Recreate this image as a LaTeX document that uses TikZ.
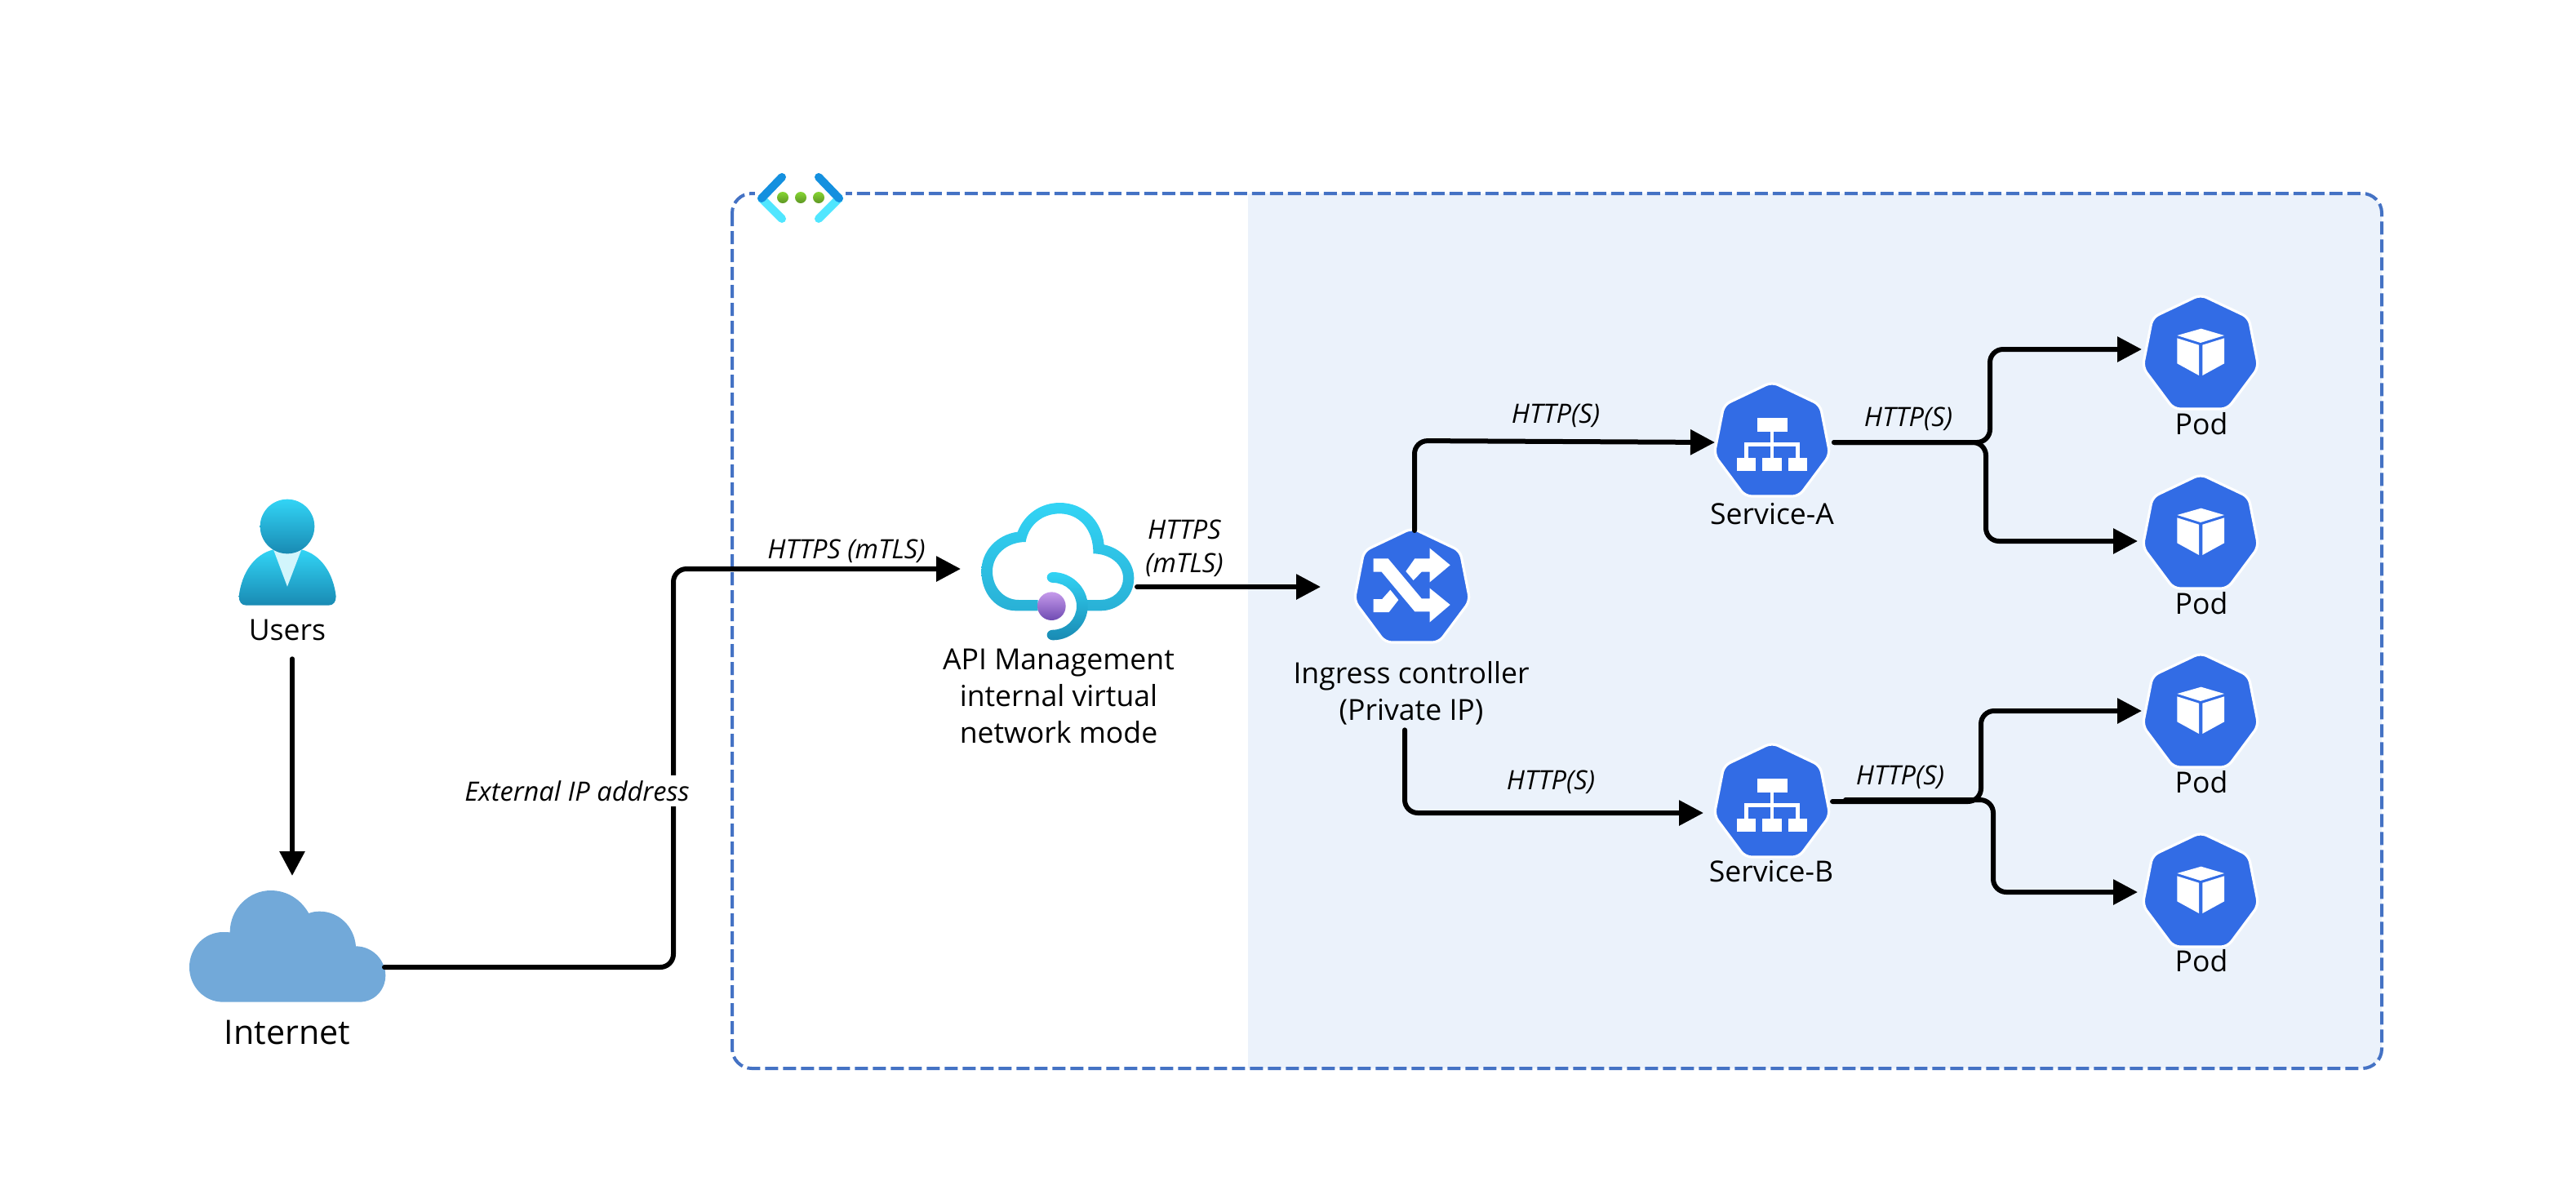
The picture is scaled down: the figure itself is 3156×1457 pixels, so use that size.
\documentclass[tikz,border=0pt]{standalone}
\usepackage{fontspec}
\setmainfont{Open Sans}
\usetikzlibrary{arrows.meta}
\definecolor{kblue}{HTML}{326CE5}
\definecolor{panel}{HTML}{EBF2FB}
\definecolor{vnetline}{HTML}{4472C4}
\definecolor{cloudblue}{HTML}{72A9D9}
\definecolor{cyantop}{HTML}{32D4F5}
\definecolor{cyanbot}{HTML}{198AB3}
\definecolor{cyanmid}{HTML}{29B1D6}
\definecolor{neck}{HTML}{D2F5FC}
\definecolor{purpletop}{HTML}{C69AEB}
\definecolor{purplebot}{HTML}{6F4BB2}
\definecolor{vnetdark}{HTML}{1490DF}
\definecolor{vnetlight}{HTML}{50E6FF}
\definecolor{dottop}{HTML}{86D633}
\definecolor{dotbot}{HTML}{5E9624}
\tikzset{
  iconbox/.style={rectangle,minimum width=68pt,minimum height=67pt,inner sep=0pt,outer sep=0pt},
  lbl/.style={font=\fontsize{17.8}{22.6}\selectfont,inner sep=0pt,align=center,text=black},
  lblit/.style={font=\fontsize{16.3}{20.4}\selectfont\itshape,inner sep=0pt,align=center,text=black},
  conn/.style={draw=black,line width=3pt,line cap=round,rounded corners=8pt},
  tip/.style={-{Triangle[length=15pt,width=15pt]}},
  hept/.pic={
    \path[fill=kblue,draw=white,line width=1.6pt,line join=round,rounded corners=4pt]
      (0,-70)--(59,-42)--(71,19)--(33,70)--(-33,70)--(-71,19)--(-59,-42)--cycle;
  },
  podglyph/.pic={
    \begin{scope}[x=1/6*1pt,y=-1/6*1pt]
      \fill[white] (-86,-60)--(2,-85)--(87,-60)--(0,-33)--cycle;
      \fill[white] (-86,-50)--(-6,-25)--(-6,87)--(-86,43)--cycle;
      \fill[white] (7,-25)--(87,-50)--(87,43)--(7,87)--cycle;
    \end{scope}
  },
  svcglyph/.pic={
    \begin{scope}[x=1/6*1pt,y=-1/6*1pt]
      \fill[white] (-55,-78) rectangle (58,-28);
      \fill[white] (-130,68) rectangle (-60,118);
      \fill[white] (-35,68) rectangle (35,118);
      \fill[white] (60,68) rectangle (130,118);
      \draw[white,line width=2.4pt] (0,-28)--(0,68);
      \draw[white,line width=2.4pt] (-95,68)--(-95,20)--(95,20)--(95,68);
    \end{scope}
  },
}
\begin{document}
\begin{tikzpicture}[x=0.5pt,y=-0.5pt]
\useasboundingbox (0,0) rectangle (3156,1457);
% panel
\fill[panel] (1529,237) -- (2894,237) arc[start angle=90,end angle=0,x radius=24,y radius=-24] -- (2918,1285) arc[start angle=0,end angle=-90,x radius=24,y radius=-24] -- (1529,1309) -- cycle;
\draw[vnetline,line width=2pt,dash pattern=on 8pt off 3pt,rounded corners=12pt] (897,237) rectangle (2918,1309);
% vnet icon
\fill[white] (925,228) rectangle (1036,258);
\begin{scope}[line width=5pt,line cap=round]
  \draw[vnetlight] (933,243)--(958,268);
  \draw[vnetlight] (1028,243)--(1003,268);
  \draw[vnetdark] (958,217)--(933,243);
  \draw[vnetdark] (1003,217)--(1028,243);
\end{scope}
\shade[top color=dottop,bottom color=dotbot] (959,242) circle[radius=7];
\shade[top color=dottop,bottom color=dotbot] (981,242) circle[radius=7];
\shade[top color=dottop,bottom color=dotbot] (1003,242) circle[radius=7];
% user
\begin{scope}[shift={(200,580)},x=1/6*1pt,y=-1/6*1pt]
  \shade[top color=cyantop,bottom color=cyanbot] (278,452) .. controls (288,365) and (335,297) .. (405,280) -- (508,280) .. controls (578,297) and (625,365) .. (635,452) .. controls (635,472) and (625,485) .. (608,485) -- (305,485) .. controls (288,485) and (278,472) .. (278,452) -- cycle;
  \fill[neck] (405,280)--(508,280)--(456,416)--cycle;
  \shade[top color=cyantop,bottom color=cyanbot] (456,195) circle[radius=100];
\end{scope}
% internet cloud
\begin{scope}[shift={(210,1070)},x=1/6*1pt,y=-1/6*1pt]
  \fill[cloudblue] (190,473) -- (690,473) .. controls (745,473) and (787,430) .. (787,375) .. controls (787,320) and (740,268) .. (678,268) .. controls (672,195) and (615,140) .. (545,140) .. controls (530,140) and (518,142) .. (505,147) .. controls (475,95) and (425,63) .. (365,63) .. controls (285,63) and (215,130) .. (215,217) .. controls (205,216) and (195,216) .. (190,216) .. controls (120,216) and (66,275) .. (66,345) .. controls (66,415) and (120,473) .. (190,473) -- cycle;
\end{scope}
% APIM icon
\begin{scope}[shift={(1160,590)},x=1/6*1pt,y=-1/6*1pt]
  \shade[top color=cyantop,bottom color=cyanmid] (335,475) -- (255,475) .. controls (180,475) and (127,410) .. (127,330) .. controls (127,255) and (185,195) .. (260,185) .. controls (285,120) and (345,78) .. (415,78) .. controls (505,78) and (570,145) .. (578,232) .. controls (640,245) and (688,295) .. (688,355) .. controls (688,425) and (630,475) .. (565,475) -- (515,475) -- (515,435) -- (565,435) .. controls (610,435) and (648,400) .. (648,355) .. controls (648,305) and (600,265) .. (538,265) .. controls (540,175) and (485,118) .. (415,118) .. controls (350,118) and (300,160) .. (290,222) .. controls (220,222) and (168,270) .. (168,330) .. controls (168,390) and (210,435) .. (265,435) -- (335,435) -- cycle;
  \shade[top color=cyantop,bottom color=cyanbot] (390,333) .. controls (459,333) and (518,389) .. (518,458) .. controls (518,527) and (459,583) .. (390,583) .. controls (378,583) and (368,575) .. (368,564) .. controls (368,553) and (378,545) .. (390,545) .. controls (438,545) and (477,506) .. (477,458) .. controls (477,410) and (438,372) .. (390,372) .. controls (378,372) and (368,363) .. (368,352) .. controls (368,342) and (378,333) .. (390,333) -- cycle;
  \shade[top color=purpletop,bottom color=purplebot] (385,458) circle[radius=52];
\end{scope}
% anchor boxes of the icons
\node[iconbox,minimum width=120pt,minimum height=69pt] (cloud) at (351,1161) {};
\node[iconbox,minimum width=93.5pt,minimum height=66pt] (apim) at (1295.5,682) {};
\node[iconbox] (ingress) at (1730,717) {};
\node[iconbox] (svcA) at (2171,538) {};
\node[iconbox] (svcB) at (2171,980) {};
\node[iconbox] (pod1) at (2696,431) {};
\node[iconbox] (pod2) at (2696,651) {};
\node[iconbox] (pod3) at (2696,870) {};
\node[iconbox] (pod4) at (2696,1090) {};
% kubernetes icons
\path (1730,717) pic {hept};
\begin{scope}[shift={(1640,630)},x=1/6*1pt,y=-1/6*1pt]
  \fill[white] (128,163)--(182,163)--(305,310)--(335,310)--(335,272)--(410,333)--(335,397)--(335,358)--(280,358)--(158,212)--(128,212)--cycle;
  \fill[white] (247,210)--(280,163)--(335,163)--(335,125)--(410,187)--(335,250)--(335,212)--(305,212)--(275,243)--cycle;
  \fill[white] (128,312)--(160,312)--(190,278)--(220,315)--(185,360)--(128,360)--cycle;
\end{scope}
\path (2171,538) pic {hept} (2171,538) pic {svcglyph};
\path (2171,980) pic {hept} (2171,980) pic {svcglyph};
\path (2696,431) pic {hept} (2696,431) pic {podglyph};
\path (2696,651) pic {hept} (2696,651) pic {podglyph};
\path (2696,870) pic {hept} (2696,870) pic {podglyph};
\path (2696,1090) pic {hept} (2696,1090) pic {podglyph};
% labels
\node[lbl] (users) at (352,772) {Users};
\node[lbl,font=\fontsize{20.6}{24}\selectfont] (internet) at (352,1265) {Internet};
\node[lbl] (apimlabel) at (1297,853) {API Management\\internal virtual\\network mode};
\node[lbl] (ingresslabel) at (1729,849) {Ingress controller\\(Private IP)};
\node[lbl] (svcAlabel) at (2171,630) {Service-A};
\node[lbl] (svcBlabel) at (2170,1068) {Service-B};
\node[lbl] (pod1label) at (2697,519) {Pod};
\node[lbl] (pod2label) at (2697,739) {Pod};
\node[lbl] (pod3label) at (2697,958) {Pod};
\node[lbl] (pod4label) at (2697,1177) {Pod};
% connectors
\draw[conn,tip] ([xshift=3pt,yshift=-11pt]users.south) -- ([xshift=3.5pt,yshift=9.5pt]cloud.north);
\draw[conn,tip] ([yshift=-12pt]cloud.east) -- (825,1185) -- (825,697) -- ([xshift=-12.5pt,yshift=-7.5pt]apim.west);
\draw[conn,tip] ([xshift=2pt,yshift=-18.5pt]apim.east) -- ([xshift=-22pt,yshift=-1pt]ingress.west);
\draw[conn,tip] ([xshift=1.5pt]ingress.north) -- (1733,540) -- ([xshift=-1pt,yshift=-2pt]svcA.west);
\draw[conn,tip] ([xshift=-4pt,yshift=-3pt]ingresslabel.south) -- (1721,996) -- ([xshift=-8pt,yshift=-8pt]svcB.west);
\draw[conn,tip] ([xshift=4pt,yshift=-2pt]svcA.east) -- (2438,542) -- (2438,428) -- ([xshift=-2pt,yshift=1.5pt]pod1.west);
\draw[conn,tip] ([xshift=4pt,yshift=-2pt]svcA.east) -- (2433,542) -- (2433,663) -- ([xshift=-4.5pt,yshift=-6pt]pod2.west);
\draw[conn,tip] ([xshift=3pt,yshift=-1pt]svcB.east) -- (2427,982) -- (2427,871) -- ([xshift=-2pt,yshift=-0.5pt]pod3.west);
\draw[conn,tip] ([xshift=11pt,yshift=-0pt]svcB.east) -- (2442,980) -- (2442,1093) -- ([xshift=-4.5pt,yshift=-1.5pt]pod4.west);
% connector labels
\node[lblit] (l1) at (1037,675) {HTTPS (mTLS)};
\node[lblit] (l2) at (1451,672) {HTTPS\\(mTLS)};
\node[lblit,fill=white,inner sep=3pt] (l3) at (707,969) {External IP address};
\node[lblit] (l4) at (1906,509) {HTTP(S)};
\node[lblit] (l5) at (2338,513) {HTTP(S)};
\node[lblit] (l6) at (1900,958) {HTTP(S)};
\node[lblit] (l7) at (2328,952) {HTTP(S)};
\end{tikzpicture}
\end{document}
